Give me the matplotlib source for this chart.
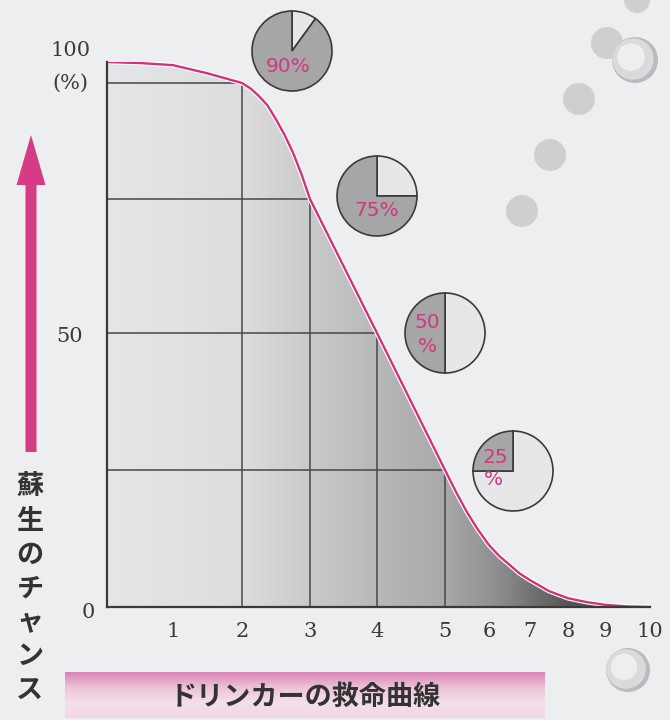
import numpy as np
import matplotlib.pyplot as plt
from matplotlib.patches import Circle, FancyArrow
from matplotlib.colors import LinearSegmentedColormap

plt.rcParams['font.family'] = ['Noto Sans CJK JP', 'DejaVu Sans']

# Drinker's curve: minutes after breathing stops vs. chance of resuscitation (%)
minutes = [0, 0.5, 1, 1.5, 1.75, 2, 2.125, 2.25, 2.375, 2.5, 2.625, 2.75, 2.875, 3,
           3.5, 4, 4.5, 5, 5.25, 5.5, 5.75, 6, 6.25, 6.5, 6.75, 7, 7.5, 8, 8.5, 9, 9.5, 10]
survival = [100, 99.5, 98.5, 94.6, 92.3, 90, 89.3, 88.3, 87.1, 85.3, 83.3, 81.0, 78.2, 75,
            62.5, 50, 37.5, 25, 21, 17.3, 14.1, 11.3, 9.3, 7.7, 6.1, 4.9, 2.9, 1.6, 0.9, 0.4, 0.1, 0]

# reference points marked with guide lines and pies
mark_minutes = [2, 3, 4, 5]
mark_survival = [90, 75, 50, 25]

x_ticks = [1, 2, 3, 4, 5, 6, 7, 8, 9, 10]
y_labels = ['0', '50', '100', '(%)']
title = 'ドリンカーの救命曲線'
ylabel = '蘇生のチャンス'

# uneven axis spacing (pixels from the origin)
x_scale_min = [0, 1, 2, 3, 4, 5, 6, 7, 8, 9, 10]
x_scale_px = [0, 66, 135, 203, 270, 338, 382, 423, 461, 498, 543]
y_scale_val = [0, 25, 50, 75, 90, 100]
y_scale_px = [0, 137, 274, 408, 524, 545]


def piecewise(src, dst):
    src = np.asarray(src, float)
    dst = np.asarray(dst, float)

    def f(v):
        v = np.asarray(v, float)
        out = np.interp(v, src, dst)
        lo = v < src[0]
        hi = v > src[-1]
        out = np.where(lo, dst[0] + (v - src[0]) * (dst[1] - dst[0]) / (src[1] - src[0]), out)
        out = np.where(hi, dst[-1] + (v - src[-1]) * (dst[-1] - dst[-2]) / (src[-1] - src[-2]), out)
        return out
    return f


W, H = 670, 720
pink = '#d4307c'
ink = '#3a3a3a'

fig = plt.figure(figsize=(W / 100, H / 100), dpi=100)
fig.patch.set_facecolor('#eceef0')

# backdrop layer in pixel units
bg = fig.add_axes([0, 0, 1, 1], zorder=0)
bg.set_xlim(0, W)
bg.set_ylim(H, 0)
bg.axis('off')

for cx, cy, r in [(637, 0, 13), (607, 43, 16), (579, 99, 16), (550, 155, 16), (522, 211, 16)]:
    bg.add_patch(Circle((cx, cy), r, color='#cdcfd1', lw=0))
for cx, cy, r in [(635, 60, 23), (628, 670, 22)]:
    bg.add_patch(Circle((cx, cy), r, color='#b9bcbf', lw=0))
    bg.add_patch(Circle((cx - 2, cy - 1), r * 0.9, color='#d8dadc', lw=0))
    bg.add_patch(Circle((cx - 4, cy - 3), r * 0.6, color='#eceeef', lw=0))

bg.add_patch(FancyArrow(31, 452, 0, -317, width=11, head_width=29, head_length=50,
                        length_includes_head=True, color='#d63c86', lw=0))
for i, ch in enumerate(ylabel):
    bg.text(30, 487 + i * 33.8, ch, ha='center', va='center', fontsize=19.5,
            fontweight='bold', color='#333333')

band = np.linspace(0, 1, 64).reshape(-1, 1)
band_cmap = LinearSegmentedColormap.from_list('band', ['#d985b4', '#eec3da', '#f4dfeb', '#f2d6e6'])
bg.imshow(band, cmap=band_cmap, extent=[65, 545, 718, 672], aspect='auto', zorder=1)
bg.text(305, 697, title, ha='center', va='center', fontsize=19.5,
        fontweight='bold', color='#333333', zorder=2)
bg.set_xlim(0, W)
bg.set_ylim(H, 0)

# main chart
ax = fig.add_axes([107 / W, (H - 607) / H, 543 / W, 545 / H], zorder=1)
ax.set_facecolor('none')
ax.set_xscale('function', functions=(piecewise(x_scale_min, x_scale_px),
                                     piecewise(x_scale_px, x_scale_min)))
ax.set_yscale('function', functions=(piecewise(y_scale_val, y_scale_px),
                                     piecewise(y_scale_px, y_scale_val)))

fill = ax.fill_between(minutes, survival, 0, color='none', lw=0)
shade = LinearSegmentedColormap.from_list('shade', [
    (0.0, '#e4e6e8'), (0.25, '#dddddd'), (0.375, '#c9c9c9'), (0.5, '#b8b8b8'),
    (0.625, '#a8a8a8'), (0.72, '#8e8e8e'), (0.85, '#565656'), (1.0, '#3c3c3c')])
grad = ax.imshow(np.linspace(0, 1, 256).reshape(1, -1), cmap=shade, extent=[0, 1, 0, 1],
                 transform=ax.transAxes, aspect='auto', zorder=1)
grad.set_clip_path(fill.get_paths()[0], ax.transData)

ax.vlines(mark_minutes, 0, mark_survival, color='#474747', lw=1.1, zorder=2)
ax.hlines(mark_survival, 0, mark_minutes, color='#474747', lw=1.1, zorder=2)

ax.plot(minutes, survival, color='white', lw=3.4, zorder=3, solid_capstyle='butt')
ax.plot(minutes, survival, color=pink, lw=1.7, zorder=4)

ax.set_xlim(0, 10)
ax.set_ylim(0, 100)
for side in ['top', 'right']:
    ax.spines[side].set_visible(False)
for side in ['left', 'bottom']:
    ax.spines[side].set_color(ink)
    ax.spines[side].set_linewidth(1.6)
    ax.spines[side].set_zorder(5)

ax.set_yticks([])
ax.set_xticks(x_ticks)
ax.set_xticklabels([str(t) for t in x_ticks], family='DejaVu Serif', fontsize=15, color=ink)
ax.tick_params(axis='x', length=0, pad=11)

serif = dict(family='DejaVu Serif', fontsize=15, color=ink, ha='center', va='center',
             textcoords='offset pixels', annotation_clip=False)
ax.annotate(y_labels[0], xy=(0, 0), xytext=(-19, -6), **serif)
ax.annotate(y_labels[1], xy=(0, 50), xytext=(-37, -3), **serif)
ax.annotate(y_labels[2], xy=(0, 100), xytext=(-37, 12), **serif)
ax.annotate(y_labels[3], xy=(0, 100), xytext=(-37, -21), **serif)

# pies showing each marked survival rate
pie_values = [90, 75, 50, 25]
pie_centers = [(292, 51), (377, 196), (445, 333), (513, 471)]
pie_text = {90: [('90%', -0.1, -0.4)],
            75: [('75%', 0.0, -0.35)],
            50: [('50', -0.45, 0.27), ('%', -0.45, -0.33)],
            25: [('25', -0.45, 0.33), ('%', -0.5, -0.22)]}
r = 40
for p, (cx, cy) in zip(pie_values, pie_centers):
    half = r * 1.06
    pax = fig.add_axes([(cx - half) / W, (H - cy - half) / H, 2 * half / W, 2 * half / H], zorder=3)
    pax.pie([100 - p, p], colors=['#e6e7e9', '#a6a6a6'], startangle=90, counterclock=False,
            wedgeprops=dict(edgecolor=ink, linewidth=1.2))
    pax.set_xlim(-1.06, 1.06)
    pax.set_ylim(-1.06, 1.06)
    pax.axis('off')
    for s, tx, ty in pie_text[p]:
        pax.text(tx, ty, s, ha='center', va='center', family='DejaVu Sans',
                 fontsize=14.5, color='#cf3a80')

fig.savefig('out.png', dpi=100, facecolor=fig.get_facecolor())
